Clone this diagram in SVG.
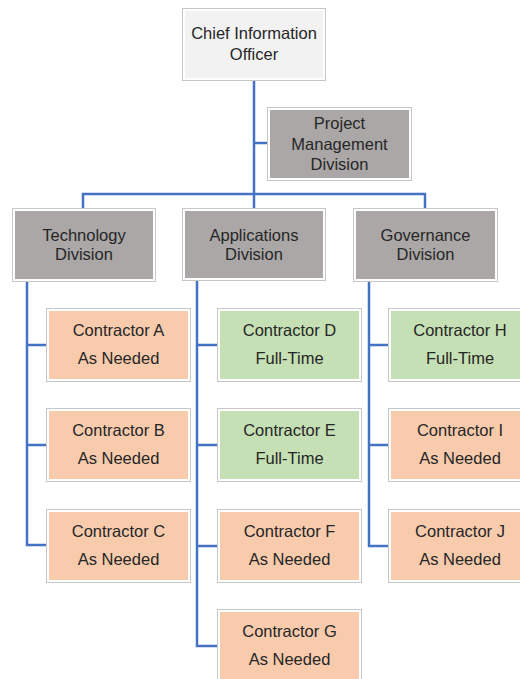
<svg xmlns="http://www.w3.org/2000/svg" width="520" height="679" viewBox="0 0 520 679">
<style>
.o{fill:#ffffff;stroke:#c6c6c6;stroke-width:1}
.cio{fill:#f2f2f2}
.div{fill:#aba7a7}
.orn{fill:#f8cbad}
.grn{fill:#c5e0b4}
text{font-family:"Liberation Sans",Arial,sans-serif;font-size:16.5px;fill:#262626;text-anchor:middle}
.ln{fill:none;stroke:#4472c4;stroke-width:2.5;stroke-linejoin:miter;stroke-linecap:butt}
</style>
<rect width="520" height="679" fill="#ffffff"/>
<g id="connectors">
<path class="ln" d="M254 80V208"/>
<path class="ln" d="M254 143H267"/>
<path class="ln" d="M83 208V194H425V208"/>
<path class="ln" d="M27 281V545H46M27 345H46M27 445H46"/>
<path class="ln" d="M197 280V646H217M197 345H217M197 445H217M197 546H217"/>
<path class="ln" d="M369 281V546H388M369 345H388M369 445H388"/>
</g>
<g id="cio"><rect class="o" x="182.5" y="8.5" width="143" height="72"/><rect class="cio" x="185" y="11" width="138" height="67"/><text x="254" y="39">Chief Information</text><text x="254" y="59.5">Officer</text></g>
<g id="pm"><rect class="o" x="267.5" y="107.5" width="144" height="73"/><rect class="div" x="270" y="110" width="139" height="68"/><text x="339.5" y="129">Project</text><text x="339.5" y="149.5">Management</text><text x="339.5" y="170">Division</text></g>
<g id="tech"><rect class="o" x="12.5" y="208.5" width="143" height="73"/><rect class="div" x="15" y="211" width="138" height="68"/><text x="84" y="240.5">Technology</text><text x="84" y="260">Division</text></g>
<g id="apps"><rect class="o" x="182.5" y="208.5" width="143" height="72"/><rect class="div" x="185" y="211" width="138" height="67"/><text x="254" y="240.5">Applications</text><text x="254" y="260">Division</text></g>
<g id="gov"><rect class="o" x="353.5" y="208.5" width="144" height="73"/><rect class="div" x="356" y="211" width="139" height="68"/><text x="425.5" y="240.5">Governance</text><text x="425.5" y="260">Division</text></g>

<g id="ca"><rect class="o" x="46.5" y="308.5" width="144" height="73"/><rect class="orn" x="49" y="311" width="139" height="68"/><text x="118.5" y="336">Contractor A</text><text x="118.5" y="364">As Needed</text></g>
<g id="cb"><rect class="o" x="46.5" y="408.5" width="144" height="73"/><rect class="orn" x="49" y="411" width="139" height="68"/><text x="118.5" y="436">Contractor B</text><text x="118.5" y="464">As Needed</text></g>
<g id="cc"><rect class="o" x="46.5" y="509.5" width="144" height="73"/><rect class="orn" x="49" y="512" width="139" height="68"/><text x="118.5" y="537">Contractor C</text><text x="118.5" y="565">As Needed</text></g>

<g id="cd"><rect class="o" x="217.5" y="308.5" width="144" height="73"/><rect class="grn" x="220" y="311" width="139" height="68"/><text x="289.5" y="336">Contractor D</text><text x="289.5" y="364">Full-Time</text></g>
<g id="ce"><rect class="o" x="217.5" y="408.5" width="144" height="73"/><rect class="grn" x="220" y="411" width="139" height="68"/><text x="289.5" y="436">Contractor E</text><text x="289.5" y="464">Full-Time</text></g>
<g id="cf"><rect class="o" x="217.5" y="509.5" width="144" height="73"/><rect class="orn" x="220" y="512" width="139" height="68"/><text x="289.5" y="537">Contractor F</text><text x="289.5" y="565">As Needed</text></g>
<g id="cg"><rect class="o" x="217.5" y="609.5" width="144" height="73"/><rect class="orn" x="220" y="612" width="139" height="68"/><text x="289.5" y="637">Contractor G</text><text x="289.5" y="665">As Needed</text></g>

<g id="ch"><rect class="o" x="388.5" y="308.5" width="144" height="73"/><rect class="grn" x="391" y="311" width="139" height="68"/><text x="460" y="336">Contractor H</text><text x="460" y="364">Full-Time</text></g>
<g id="ci"><rect class="o" x="388.5" y="408.5" width="144" height="73"/><rect class="orn" x="391" y="411" width="139" height="68"/><text x="460" y="436">Contractor I</text><text x="460" y="464">As Needed</text></g>
<g id="cj"><rect class="o" x="388.5" y="509.5" width="144" height="73"/><rect class="orn" x="391" y="512" width="139" height="68"/><text x="460" y="537">Contractor J</text><text x="460" y="565">As Needed</text></g>
</svg>
